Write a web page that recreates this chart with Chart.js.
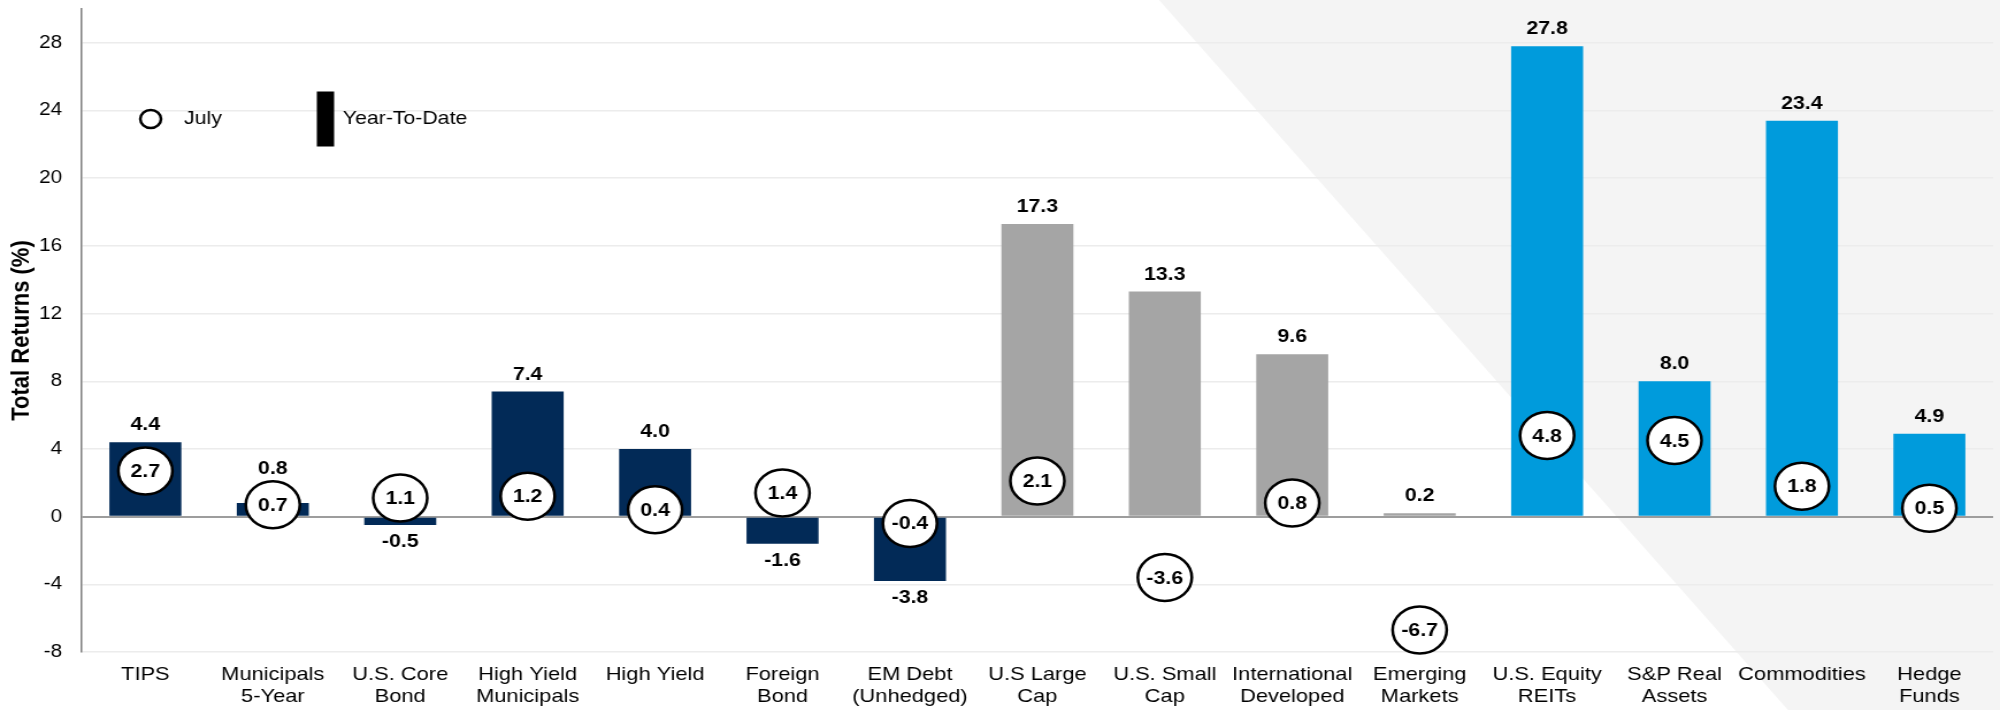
<!DOCTYPE html>
<html>
<head>
<meta charset="utf-8">
<title>Total Returns</title>
<script src="https://cdn.jsdelivr.net/npm/chart.js@4.4.0/dist/chart.umd.min.js"></script>
<style>
  html, body { margin: 0; padding: 0; background: #fff; overflow: hidden; }
  /* the original picture is a slightly widened slide, so the canvas is drawn narrower and stretched */
  #returnsChart { display: block; width: 2000px; height: 710px; }
</style>
</head>
<body>
<canvas id="returnsChart" width="1739" height="710" style="width:2000px;height:710px"></canvas>
<script>
const categories = [
  ['TIPS'], ['Municipals', '5-Year'], ['U.S. Core', 'Bond'], ['High Yield', 'Municipals'],
  ['High Yield'], ['Foreign', 'Bond'], ['EM Debt', '(Unhedged)'], ['U.S Large', 'Cap'],
  ['U.S. Small', 'Cap'], ['International', 'Developed'], ['Emerging', 'Markets'],
  ['U.S. Equity', 'REITs'], ['S&P Real', 'Assets'], ['Commodities'], ['Hedge', 'Funds']
];
const ytdReturns = [4.4, 0.8, -0.5, 7.4, 4.0, -1.6, -3.8, 17.3, 13.3, 9.6, 0.2, 27.8, 8.0, 23.4, 4.9];
const julyReturns = [2.7, 0.7, 1.1, 1.2, 0.4, 1.4, -0.4, 2.1, -3.6, 0.8, -6.7, 4.8, 4.5, 1.8, 0.5];
const assetGroups = ['fixed', 'fixed', 'fixed', 'fixed', 'fixed', 'fixed', 'fixed',
  'equity', 'equity', 'equity', 'equity', 'real', 'real', 'real', 'real'];
const seriesNames = ['July', 'Year-To-Date'];
const yTicks = [-8, -4, 0, 4, 8, 12, 16, 20, 24, 28];

const groupColors = { fixed: '#022a57', equity: '#a5a5a5', real: '#009bdc' };
const FONT = "'Liberation Sans', Arial, sans-serif";
Chart.defaults.font.family = FONT;

// light grey slanted panel behind the right part of the chart
const slantBackground = {
  id: 'slantBackground',
  beforeDraw(chart) {
    const { ctx, width, height } = chart;
    ctx.save();
    ctx.fillStyle = '#f4f4f4';
    ctx.beginPath();
    ctx.moveTo(width * 0.5795, 0);
    ctx.lineTo(width, 0);
    ctx.lineTo(width, height);
    ctx.lineTo(width * 0.894, height);
    ctx.closePath();
    ctx.fill();
    ctx.restore();
  }
};

// numbers over the bars and inside the circles
const valueLabels = {
  id: 'valueLabels',
  afterDatasetsDraw(chart) {
    const { ctx } = chart;
    const dots = chart.getDatasetMeta(0).data;
    const bars = chart.getDatasetMeta(1).data;
    ctx.save();
    ctx.font = 'bold 18.5px ' + FONT;
    ctx.fillStyle = '#000';
    ctx.textAlign = 'center';
    ctx.textBaseline = 'middle';
    bars.forEach((bar, i) => {
      const v = ytdReturns[i];
      const dot = dots[i];
      let y = v >= 0 ? bar.y - 17 : bar.y + 17;
      // keep clear of the july circle
      if (Math.abs(y - dot.y) < 31) {
        y = v >= 0 ? dot.y - 36 : dot.y + 36;
      }
      ctx.fillText(v.toFixed(1), bar.x, y);
    });
    dots.forEach((dot, i) => {
      ctx.fillText(julyReturns[i].toFixed(1), dot.x, dot.y + 1);
    });
    ctx.restore();
  }
};

// legend sits inside the plot, top left
const insideLegend = {
  id: 'insideLegend',
  afterDraw(chart) {
    const { ctx, chartArea } = chart;
    const cy = chartArea.top + 110;
    const x0 = chartArea.left;
    ctx.save();
    ctx.lineWidth = 2.5;
    ctx.strokeStyle = '#000';
    ctx.fillStyle = '#fff';
    ctx.beginPath();
    ctx.arc(x0 + 60, cy, 9, 0, Math.PI * 2);
    ctx.fill();
    ctx.stroke();

    ctx.fillStyle = '#000';
    ctx.fillRect(x0 + 204.5, cy - 27.5, 15, 55);

    ctx.font = '18.5px ' + FONT;
    ctx.textAlign = 'left';
    ctx.textBaseline = 'middle';
    ctx.fillText(seriesNames[0], x0 + 89, cy);
    ctx.fillText(seriesNames[1], x0 + 227, cy);
    ctx.restore();
  }
};

new Chart(document.getElementById('returnsChart'), {
  type: 'bar',
  data: {
    labels: categories,
    datasets: [
      {
        type: 'line',
        label: seriesNames[0],
        data: julyReturns,
        showLine: false,
        clip: false,
        pointStyle: 'circle',
        pointRadius: 23.5,
        pointHoverRadius: 23.5,
        pointBackgroundColor: '#fff',
        pointBorderColor: '#000',
        pointBorderWidth: 2.5,
        order: 0
      },
      {
        label: seriesNames[1],
        data: ytdReturns,
        backgroundColor: assetGroups.map(g => groupColors[g]),
        barPercentage: 0.565,
        categoryPercentage: 1,
        order: 1
      }
    ]
  },
  options: {
    responsive: false,
    animation: false,
    devicePixelRatio: 1,
    layout: { autoPadding: false, padding: { top: 9, right: 6, left: 0, bottom: 0 } },
    plugins: {
      legend: { display: false },
      tooltip: { enabled: false }
    },
    scales: {
      x: {
        grid: { display: false, drawTicks: false },
        border: { display: false },
        ticks: {
          color: '#000',
          font: { size: 19 },
          padding: 11,
          maxRotation: 0,
          autoSkip: false
        },
        afterFit: s => {
          s.height = 58;
          s.paddingLeft = 0;
          s.paddingRight = 0;
        }
      },
      y: {
        min: -8,
        max: 30,
        afterBuildTicks: s => { s.ticks = yTicks.map(v => ({ value: v })); },
        grid: {
          drawTicks: false,
          color: c => (c.tick && c.tick.value === 0) ? '#9d9d9d' : '#ececec',
          lineWidth: c => (c.tick && c.tick.value === 0) ? 2 : 1.5
        },
        border: { color: '#7f7f7f', width: 1.5 },
        ticks: { color: '#000', font: { size: 18 }, padding: 17 },
        title: {
          display: true,
          text: 'Total Returns (%)',
          color: '#000',
          font: { size: 22, weight: 'bold' },
          padding: { top: 6, bottom: 0 }
        },
        afterFit: s => {
          s.width = 71;
          s.paddingTop = 0;
          s.paddingBottom = 0;
        }
      }
    }
  },
  plugins: [slantBackground, valueLabels, insideLegend]
});
</script>
</body>
</html>
